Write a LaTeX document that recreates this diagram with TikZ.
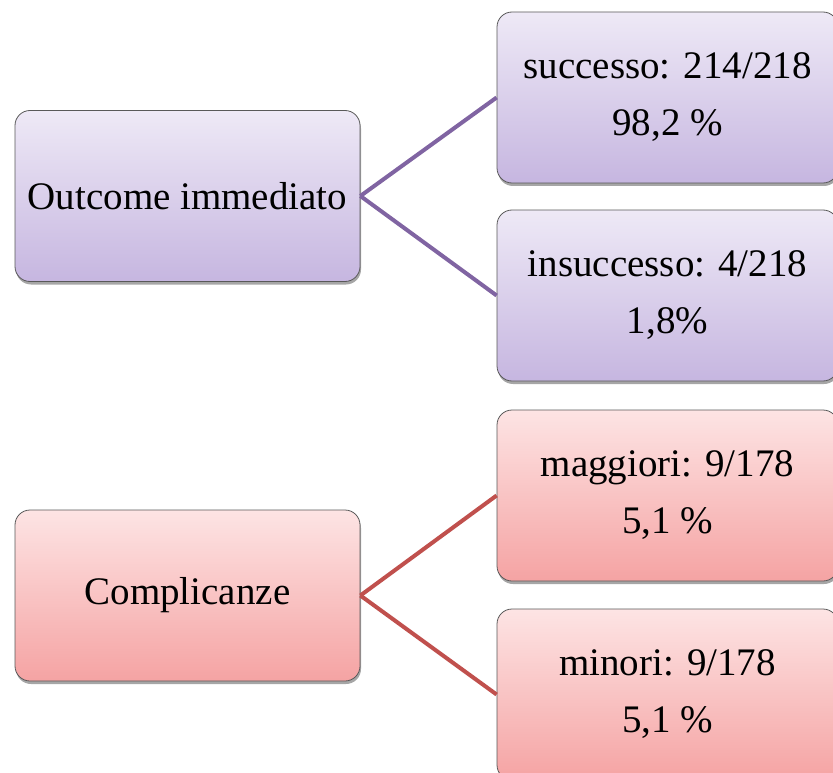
\documentclass[tikz,border=0pt]{standalone}
\usepackage{fontspec}
\setmainfont{Liberation Serif}
\usetikzlibrary{shadows}
\definecolor{purpTop}{HTML}{EEE9F6}
\definecolor{purpBot}{HTML}{C6B6E0}
\definecolor{redTop}{HTML}{FDE4E4}
\definecolor{redBot}{HTML}{F5A3A3}
\definecolor{purpLine}{HTML}{8064A2}
\definecolor{redLine}{HTML}{C0504D}
\tikzset{
  box/.style={draw=black!65, line width=0.8pt, rounded corners=15pt,
    minimum width=#1, minimum height=171pt, align=center, inner sep=0pt,
    font=\fontsize{39}{57}\selectfont,
    drop shadow={shadow xshift=1pt, shadow yshift=-3pt, opacity=0.35, fill=black}},
  purp/.style={top color=purpTop, bottom color=purpBot},
  redb/.style={top color=redTop, bottom color=redBot},
  plink/.style={draw=purpLine, line width=4pt},
  rlink/.style={draw=redLine, line width=4pt}
}
\begin{document}
\begin{tikzpicture}[x=1pt,y=-1pt]
\useasboundingbox (0,0) rectangle (833,773);
\clip (0,0) rectangle (833,773);
\node[box=345pt, purp] (L1) at (187.5,196) {Outcome immediato};
\node[box=345pt, redb] (L2) at (187.5,595.5) {Complicanze};
\node[box=341pt, purp] (R1) at (667.5,97.5) {successo: 214/218\\98,2 \%};
\node[box=341pt, purp] (R2) at (667.5,295.5) {insuccesso: 4/218\\1,8\%};
\node[box=341pt, redb] (R3) at (667.5,495.5) {maggiori: 9/178\\5,1 \%};
\node[box=341pt, redb] (R4) at (667.5,694.5) {minori: 9/178\\5,1 \%};
\draw[plink] (L1.east) -- (R1.west);
\draw[plink] (L1.east) -- (R2.west);
\draw[rlink] (L2.east) -- (R3.west);
\draw[rlink] (L2.east) -- (R4.west);
\end{tikzpicture}
\end{document}
